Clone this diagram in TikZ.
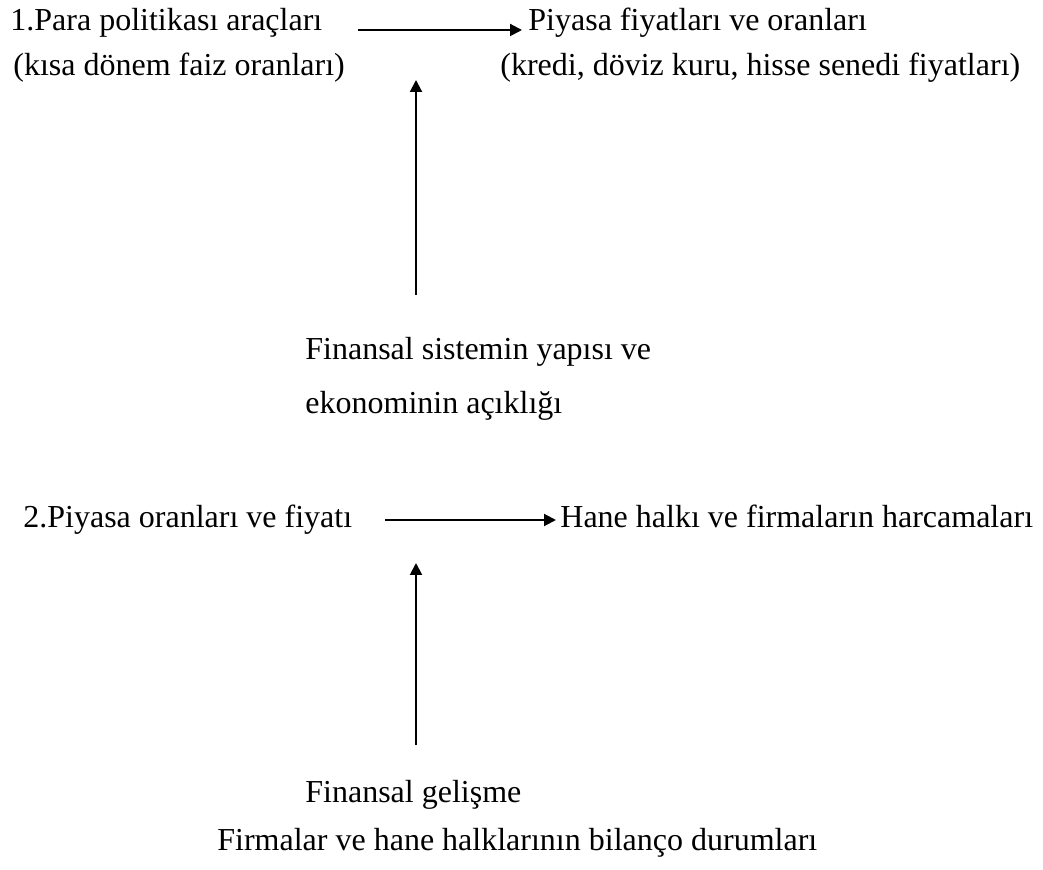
\documentclass[tikz,border=0pt]{standalone}
\usepackage{fontspec}
\setmainfont{Liberation Serif}
\usetikzlibrary{arrows.meta,positioning}
\tikzset{
  label text/.style={anchor=base west, inner sep=0pt, font=\fontsize{16}{19}\selectfont},
  flow/.style={-{Triangle[length=6pt,width=6pt]}, line width=1pt},
}

\begin{document}
\begin{tikzpicture}[x=0.5pt,y=-0.5pt]
  \useasboundingbox (0,0) rectangle (1043,870);

  % Step 1
  \node[label text] (tools) at (10,31) {1.Para politikası araçları};
  \node[label text] (toolsnote) at (13,76) {(kısa dönem faiz oranları)};
  \node[label text] (prices) at (528,31) {Piyasa fiyatları ve oranları};
  \node[label text] (pricesnote) at (500,76) {(kredi, döviz kuru, hisse senedi fiyatları)};
  \node[label text] (structure) at (305,360) {Finansal sistemin yapısı ve};
  \node[label text] (openness) at (305,414) {ekonominin açıklığı};

  \coordinate (flowA) at (358,30);
  \coordinate (riseAbot) at (416,295);
  \coordinate (riseAtop) at (416,80);
  \draw[flow, shorten >=3pt] (flowA) -- (flowA -| prices.west);
  \draw[flow] (riseAbot) -- (riseAtop);

  % Step 2
  \node[label text] (rates) at (23,528) {2.Piyasa oranları ve fiyatı};
  \node[label text] (spending) at (560,528) {Hane halkı ve firmaların harcamaları};
  \node[label text] (development) at (305,802) {Finansal gelişme};
  \node[label text] (balance) at (217,850) {Firmalar ve hane halklarının bilanço durumları};

  \coordinate (flowB) at (385,520);
  \coordinate (riseBbot) at (416,745);
  \coordinate (riseBtop) at (416,563);
  \draw[flow, shorten >=2pt] (flowB) -- (flowB -| spending.west);
  \draw[flow] (riseBbot) -- (riseBtop);
\end{tikzpicture}
\end{document}
